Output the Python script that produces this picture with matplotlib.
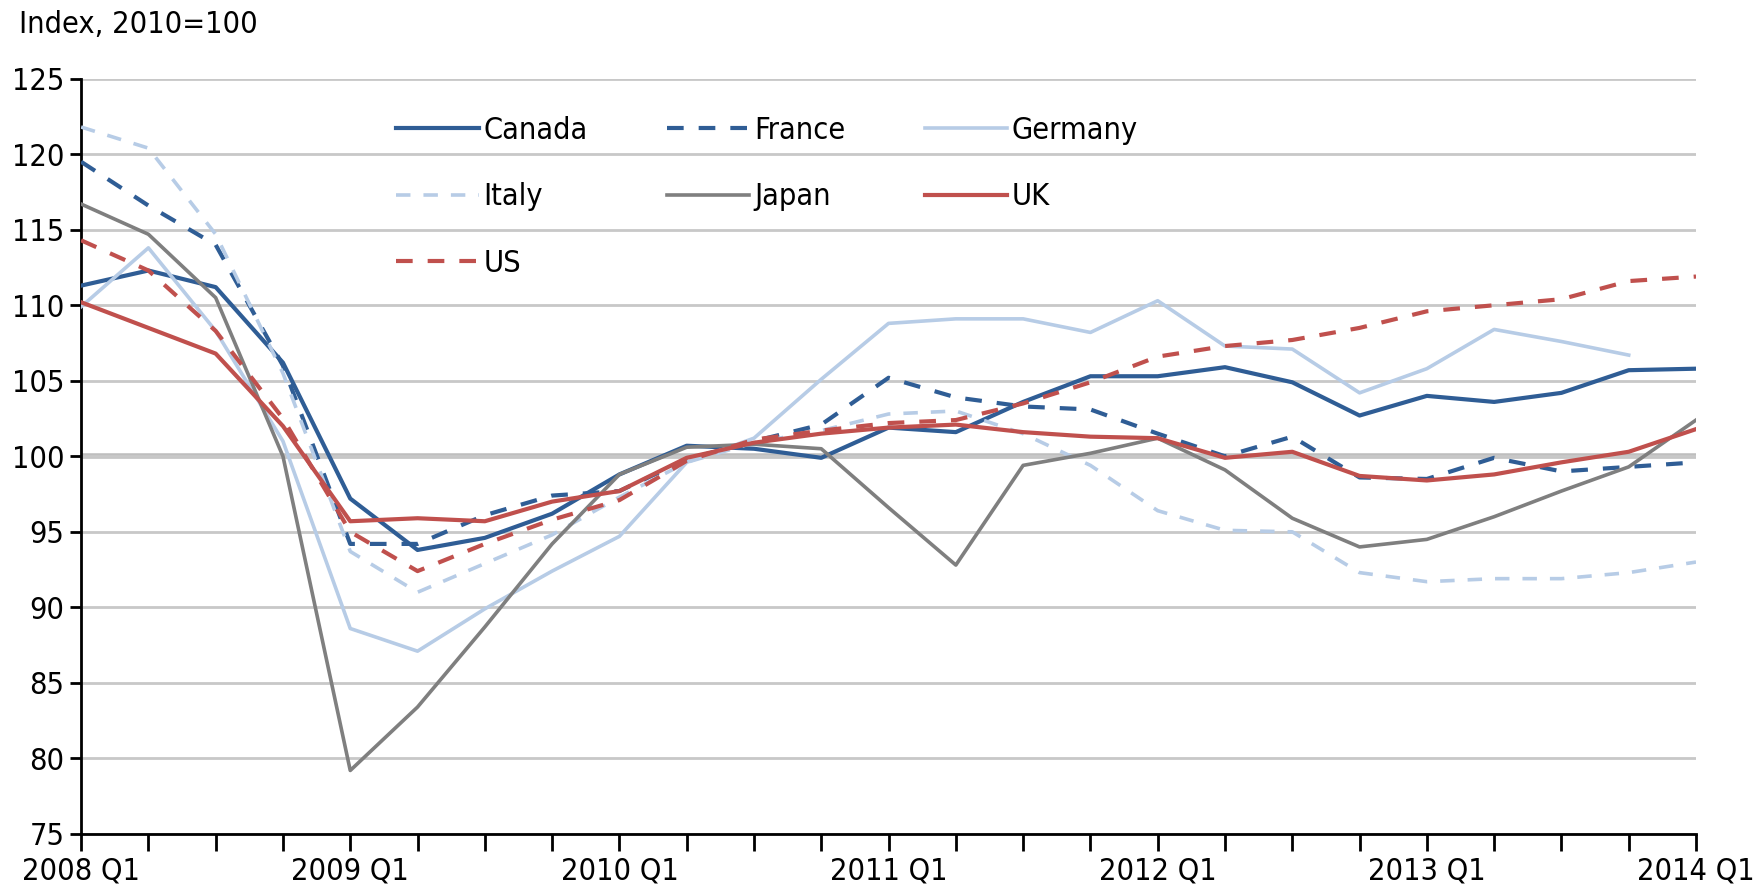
import numpy as np
import matplotlib
matplotlib.use("Agg")
import matplotlib.pyplot as plt
from matplotlib import font_manager as fm

# narrow face if the machine has one, otherwise plain Liberation Sans
narrow = None
for f in fm.fontManager.ttflist:
    fn = f.fname.lower()
    if ('narrow' in fn or 'condensed' in fn) and 'bold' not in fn and 'italic' not in fn \
            and 'oblique' not in fn and 'light' not in fn:
        narrow = f
        break

if narrow is not None:
    plt.rcParams['font.family'] = [narrow.name, 'DejaVu Sans']
    plt.rcParams['font.stretch'] = narrow.stretch
    fs = 22
else:
    plt.rcParams['font.family'] = ['Liberation Sans', 'DejaVu Sans']
    fs = 21

# quarters 2008 Q1 .. 2014 Q1
quarters = [f"{y} Q{q}" for y in range(2008, 2015) for q in range(1, 5)][:25]

canada = [111.3, 112.3, 111.2, 106.2, 97.2, 93.8, 94.6, 96.2, 98.8, 100.7, 100.5, 99.9, 101.9,
          101.6, 103.6, 105.3, 105.3, 105.9, 104.9, 102.7, 104.0, 103.6, 104.2, 105.7, 105.8]
france = [119.5, 116.6, 114.0, 106.0, 94.2, 94.2, 96.1, 97.4, 97.7, 99.8, 101.0, 102.1, 105.2,
          103.9, 103.3, 103.1, 101.5, 100.0, 101.3, 98.6, 98.5, 99.9, 99.0, 99.3, 99.6]
germany = [109.9, 113.8, 108.3, 101.0, 88.6, 87.1, 89.9, 92.4, 94.7, 99.6, 101.2, 105.1, 108.8,
           109.1, 109.1, 108.2, 110.3, 107.3, 107.1, 104.2, 105.8, 108.4, 107.6, 106.7, np.nan]
italy = [121.8, 120.4, 114.7, 105.5, 93.7, 91.0, 92.9, 94.8, 97.3, 99.6, 100.9, 101.7, 102.8,
         103.0, 101.5, 99.4, 96.4, 95.1, 95.0, 92.3, 91.7, 91.9, 91.9, 92.3, 93.0]
japan = [116.7, 114.7, 110.5, 100.0, 79.2, 83.4, 88.7, 94.2, 98.8, 100.6, 100.8, 100.5, 96.6,
         92.8, 99.4, 100.2, 101.2, 99.1, 95.9, 94.0, 94.5, 96.0, 97.7, 99.3, 102.4]
uk = [110.2, 108.5, 106.8, 102.0, 95.7, 95.9, 95.7, 97.0, 97.7, 99.9, 100.9, 101.5, 101.9,
      102.1, 101.6, 101.3, 101.2, 99.9, 100.3, 98.7, 98.4, 98.8, 99.6, 100.3, 101.8]
us = [114.3, 112.3, 108.3, 102.5, 95.0, 92.4, 94.2, 95.8, 97.1, 99.7, 101.1, 101.7, 102.2,
      102.4, 103.5, 104.9, 106.6, 107.3, 107.7, 108.5, 109.6, 110.0, 110.4, 111.6, 111.9]

dark_blue = '#2F5D95'
light_blue = '#B7CCE6'
grey = '#7F7F7F'
red = '#C0504D'

fig = plt.figure(figsize=(17.63, 8.9), dpi=100)
ax = fig.add_axes([0.046, 0.063, 0.916, 0.8486])

x = np.arange(len(quarters))
series = [
    ('Canada', canada, dark_blue, '-', 3.0),
    ('France', france, dark_blue, (0, (4, 3.6)), 3.0),
    ('Germany', germany, light_blue, '-', 2.6),
    ('Italy', italy, light_blue, (0, (4, 3.6)), 2.6),
    ('Japan', japan, grey, '-', 2.6),
    ('UK', uk, red, '-', 3.0),
    ('US', us, red, (0, (4, 3.6)), 3.0),
]
handles = {}
for name, vals, col, ls, lw in series:
    h, = ax.plot(x, vals, color=col, linestyle=ls, linewidth=lw, label=name, zorder=3)
    handles[name] = h

ax.set_xlim(0, 24)
ax.set_ylim(75, 125)
ax.set_yticks(range(75, 126, 5))
ax.set_xticks(x)
ax.set_xticklabels([q if q.endswith('Q1') else '' for q in quarters])

ax.grid(axis='y', color='#C8C8C8', linewidth=2, zorder=0)
ax.axhline(100, color='#BEBEBE', linewidth=4, zorder=1)
for s in ['top', 'right']:
    ax.spines[s].set_visible(False)
for s in ['left', 'bottom']:
    ax.spines[s].set_color('black')
    ax.spines[s].set_linewidth(2)
ax.tick_params(axis='x', direction='out', length=12, width=2, labelsize=fs, pad=4)
ax.tick_params(axis='y', direction='out', length=8, width=2, labelsize=fs, pad=4)

order = ['Canada', 'Italy', 'US', 'France', 'Japan', 'Germany', 'UK']
leg = ax.legend([handles[n] for n in order], order, ncol=3, frameon=False, fontsize=fs,
                loc='upper left', bbox_to_anchor=(0.178, 0.9875), handlelength=2.7,
                handletextpad=0.15, columnspacing=2.6, labelspacing=1.23)

fig.text(0.011, 0.972, 'Index, 2010=100', fontsize=fs, ha='left', va='center')

fig.savefig('out.png', dpi=100)
